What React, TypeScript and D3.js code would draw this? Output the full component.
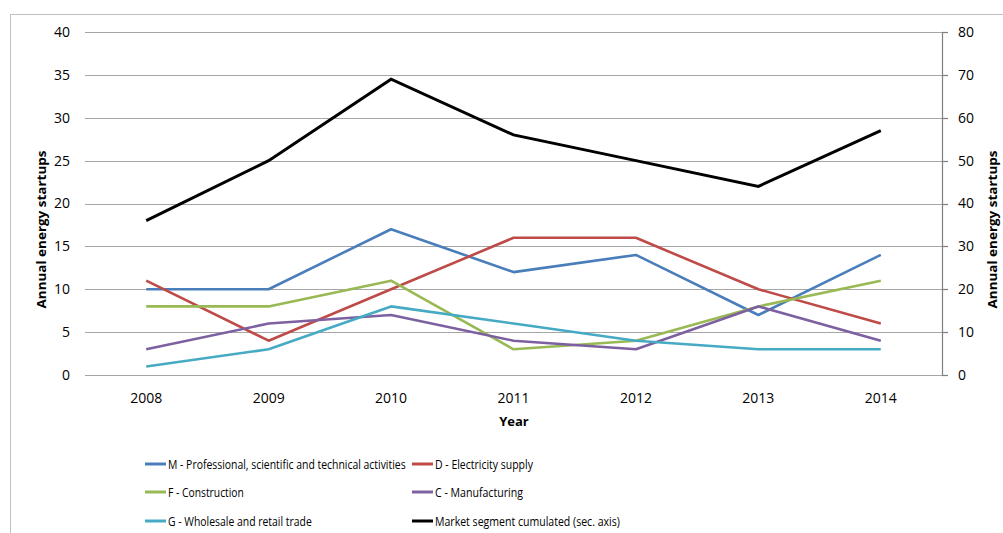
import React, { useLayoutEffect, useRef, useState } from "react";
import * as d3 from "d3";

const years = ["2008", "2009", "2010", "2011", "2012", "2013", "2014"];
const seriesM = [10, 10, 17, 12, 14, 7, 14];
const seriesD = [11, 4, 10, 16, 16, 10, 6];
const seriesF = [8, 8, 11, 3, 4, 8, 11];
const seriesC = [3, 6, 7, 4, 3, 8, 4];
const seriesG = [1, 3, 8, 6, 4, 3, 3];
const seriesMarket = [36, 50, 69, 56, 50, 44, 57];
const leftTicks = [0, 5, 10, 15, 20, 25, 30, 35, 40];
const rightTicks = [0, 10, 20, 30, 40, 50, 60, 70, 80];

const primary = [
  { name: "M - Professional, scientific and technical activities", values: seriesM, color: "#4A7EBB", tl: 238 },
  { name: "D - Electricity supply", values: seriesD, color: "#BE4B48", tl: 98 },
  { name: "F - Construction", values: seriesF, color: "#98B954", tl: 76 },
  { name: "C - Manufacturing", values: seriesC, color: "#7D60A0", tl: 88 },
  { name: "G - Wholesale and retail trade", values: seriesG, color: "#46AAC5", tl: 144 },
];
const secondary = { name: "Market segment cumulated (sec. axis)", values: seriesMarket, color: "#000000", tl: 185 };

const W = 1003;
const H = 533;
const left = 85;
const right = 942;
const top = 32;
const bottom = 375;
const FONT = "'Open Sans', 'Noto Sans', sans-serif";

function FitText(props: { x: number; y: number; width: number; children: string; fontSize: number }) {
  const ref = useRef<SVGTextElement>(null);
  const [k, setK] = useState(1);
  useLayoutEffect(() => {
    if (ref.current) {
      const w = ref.current.getComputedTextLength();
      if (w > 0) setK(props.width / w);
    }
  }, [props.width, props.children]);
  return (
    <g transform={`translate(${props.x},${props.y}) scale(${k},1)`}>
      <text ref={ref} x={0} y={0} dy="0.35em" fontSize={props.fontSize}>
        {props.children}
      </text>
    </g>
  );
}

export default function App() {
  const x = d3.scalePoint<string>().domain(years).range([left, right]).padding(0.5);
  const yL = d3.scaleLinear().domain([0, 40]).range([bottom, top]);
  const yR = d3.scaleLinear().domain([0, 80]).range([bottom, top]);
  const lineL = d3.line<number>().x((_, i) => x(years[i]) as number).y((d) => yL(d));
  const lineR = d3.line<number>().x((_, i) => x(years[i]) as number).y((d) => yR(d));

  const legendItems = [primary[0], primary[1], primary[2], primary[3], primary[4], secondary];
  const legendCols = [145, 412];
  const legendRows = [464, 492, 521];

  return (
    <svg width={W} height={H} style={{ position: "absolute", left: 0, top: 0 }} fontFamily={FONT}>
      <rect x={0} y={0} width={W} height={H} fill="#fff" />
      <rect x={10.5} y={14.5} width={1100} height={600} fill="none" stroke="#BFBFBF" strokeWidth={1} />
      {leftTicks.map((t) => (
        <line key={"g" + t} x1={left} x2={right} y1={Math.round(yL(t)) + 0.5} y2={Math.round(yL(t)) + 0.5} stroke="#A6A6A6" strokeWidth={1} />
      ))}
      {leftTicks.map((t) => (
        <text key={"l" + t} x={70} y={yL(t)} dy="0.35em" textAnchor="end" fontSize={14} fill="#000">
          {t}
        </text>
      ))}
      <line x1={right + 0.5} x2={right + 0.5} y1={top} y2={bottom + 1} stroke="#7F7F7F" strokeWidth={1.2} />
      {rightTicks.map((t) => (
        <g key={"r" + t}>
          <line x1={right} x2={right + 6} y1={Math.round(yR(t)) + 0.5} y2={Math.round(yR(t)) + 0.5} stroke="#7F7F7F" strokeWidth={1.2} />
          <text x={958} y={yR(t)} dy="0.35em" textAnchor="start" fontSize={14} fill="#000">
            {t}
          </text>
        </g>
      ))}
      {years.map((yv) => (
        <text key={"x" + yv} x={x(yv)} y={398} dy="0.35em" textAnchor="middle" fontSize={14} fill="#000">
          {yv}
        </text>
      ))}
      <text x={514} y={421} dy="0.35em" textAnchor="middle" fontSize={13} fontWeight="bold">
        Year
      </text>
      <text transform={`translate(41,${(top + bottom) / 2 + 26}) rotate(-90)`} textAnchor="middle" fontSize={13} fontWeight="bold" textLength={158} lengthAdjust="spacingAndGlyphs" dy="0.35em">
        Annual energy startups
      </text>
      <text transform={`translate(992,${(top + bottom) / 2 + 26}) rotate(-90)`} textAnchor="middle" fontSize={13} fontWeight="bold" textLength={158} lengthAdjust="spacingAndGlyphs" dy="0.35em">
        Annual energy startups
      </text>
      {primary.map((s) => (
        <path key={s.name} d={lineL(s.values) || ""} fill="none" stroke={s.color} strokeWidth={2.6} strokeLinejoin="round" />
      ))}
      <path d={lineR(secondary.values) || ""} fill="none" stroke={secondary.color} strokeWidth={3} strokeLinejoin="miter" />
      {legendItems.map((s, i) => {
        const cx = legendCols[i % 2];
        const cy = legendRows[Math.floor(i / 2)];
        return (
          <g key={"lg" + i}>
            <line x1={cx} x2={cx + 21} y1={cy} y2={cy} stroke={s.color} strokeWidth={3} />
            <FitText x={cx + 23} y={cy} width={s.tl} fontSize={13}>
              {s.name}
            </FitText>
          </g>
        );
      })}
    </svg>
  );
}
